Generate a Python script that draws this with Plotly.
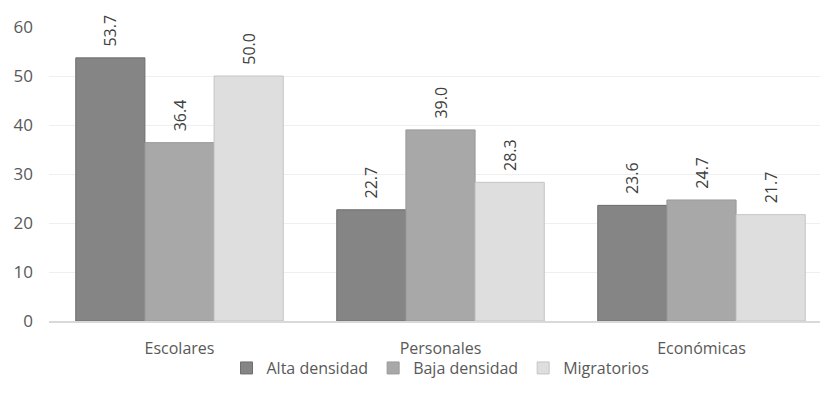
import plotly.graph_objects as go

categories = ["Escolares", "Personales", "Económicas"]
series_names = ["Alta densidad", "Baja densidad", "Migratorios"]
alta = [53.7, 22.7, 23.6]
baja = [36.4, 39.0, 24.7]
migr = [50.0, 28.3, 21.7]
y_ticks = [0, 10, 20, 30, 40, 50, 60]

colors = ["#858585", "#a8a8a8", "#dedede"]
lines = ["#6e6e6e", "#999999", "#c4c4c4"]

fig = go.Figure()
for name, vals, c, lc in zip(series_names, [alta, baja, migr], colors, lines):
    fig.add_trace(go.Bar(
        x=categories, y=vals, name=name,
        marker=dict(color=c, line=dict(color=lc, width=1)),
        text=["\u00a0\u00a0" + f"{v:.1f}" for v in vals], textposition="outside",
        textangle=-90, cliponaxis=False, constraintext="none",
        textfont=dict(size=16, color="#404040", family="Open Sans"),
    ))

# the page body adds an 8px offset; margins compensate for it
fig.update_layout(
    width=828, height=406,
    margin=dict(l=41, r=4, t=19, b=93, autoexpand=False),
    plot_bgcolor="white", paper_bgcolor="white",
    barmode="group", bargap=0.205, bargroupgap=0,
    font=dict(family="Open Sans", size=16, color="#595959"),
    showlegend=True,
    legend=dict(orientation="h", x=0.5, xanchor="center", y=-0.16, yanchor="middle",
                font=dict(size=16, color="#595959"), itemwidth=30,
                bgcolor="rgba(0,0,0,0)", traceorder="normal"),
    yaxis=dict(range=[0, 60], tickvals=y_ticks, showgrid=True, gridcolor="#efefef",
               zeroline=False, ticks="", tickfont=dict(size=17, color="#595959"),
               ticklabelstandoff=15, automargin=False),
    xaxis=dict(showline=True, linecolor="#d9d9d9", linewidth=2, ticks="",
               tickfont=dict(size=16, color="#595959"), ticklabelstandoff=12,
               automargin=False),
)
fig.write_html("out.html")
